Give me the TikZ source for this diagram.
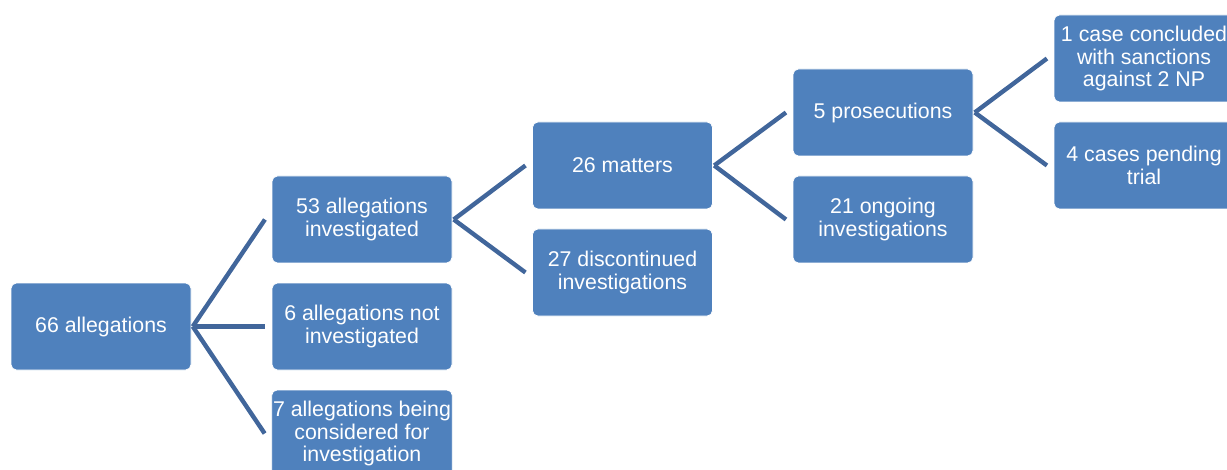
\documentclass[tikz,border=0pt]{standalone}
\usepackage{fontspec}
\setmainfont{Liberation Sans}
\definecolor{boxblue}{HTML}{4F81BD}
\definecolor{linkblue}{HTML}{41669B}
\begin{document}
\begin{tikzpicture}[x=0.75pt,y=-0.75pt,
  box/.style={fill=boxblue,draw=white,line width=0.6pt,rounded corners=4pt,
    minimum width=135pt,minimum height=65.25pt,inner sep=1pt,
    text=white,align=center,font=\fontsize{16pt}{16.8pt}\selectfont},
  link/.style={linkblue,line width=3.3pt}]
\useasboundingbox (0,0) rectangle (1227,470);
\clip (0,0) rectangle (1227,470);
\node[box] (all) at (101,326.5) {66 allegations};
\node[box] (inv) at (362,219.5) {53 allegations\\investigated};
\node[box] (notinv) at (362,326.5) {6 allegations not\\investigated};
\node[box] (cons) at (362,433.5) {7 allegations being\\considered for\\investigation};
\node[box] (mat) at (622.5,165.5) {26 matters};
\node[box] (disc) at (622.5,272.5) {27 discontinued\\investigations};
\node[box] (pros) at (883,112.5) {5 prosecutions};
\node[box] (ongo) at (883,219.5) {21 ongoing\\investigations};
\node[box] (concl) at (1144,58.5) {1 case concluded\\with sanctions\\against 2 NP};
\node[box] (pend) at (1144,165.5) {4 cases pending\\trial};
% connectors
\draw[link] ([xshift=1pt]all.east) -- ([xshift=-5pt]inv.west);
\draw[link] ([xshift=1pt]all.east) -- ([xshift=-5pt]notinv.west);
\draw[link] ([xshift=1pt]all.east) -- ([xshift=-5pt]cons.west);
\draw[link] ([xshift=1pt]inv.east) -- ([xshift=-5pt]mat.west);
\draw[link] ([xshift=1pt]inv.east) -- ([xshift=-5pt]disc.west);
\draw[link] ([xshift=1pt]mat.east) -- ([xshift=-5pt]pros.west);
\draw[link] ([xshift=1pt]mat.east) -- ([xshift=-5pt]ongo.west);
\draw[link] ([xshift=1pt]pros.east) -- ([xshift=-5pt]concl.west);
\draw[link] ([xshift=1pt]pros.east) -- ([xshift=-5pt]pend.west);
\end{tikzpicture}
\end{document}
